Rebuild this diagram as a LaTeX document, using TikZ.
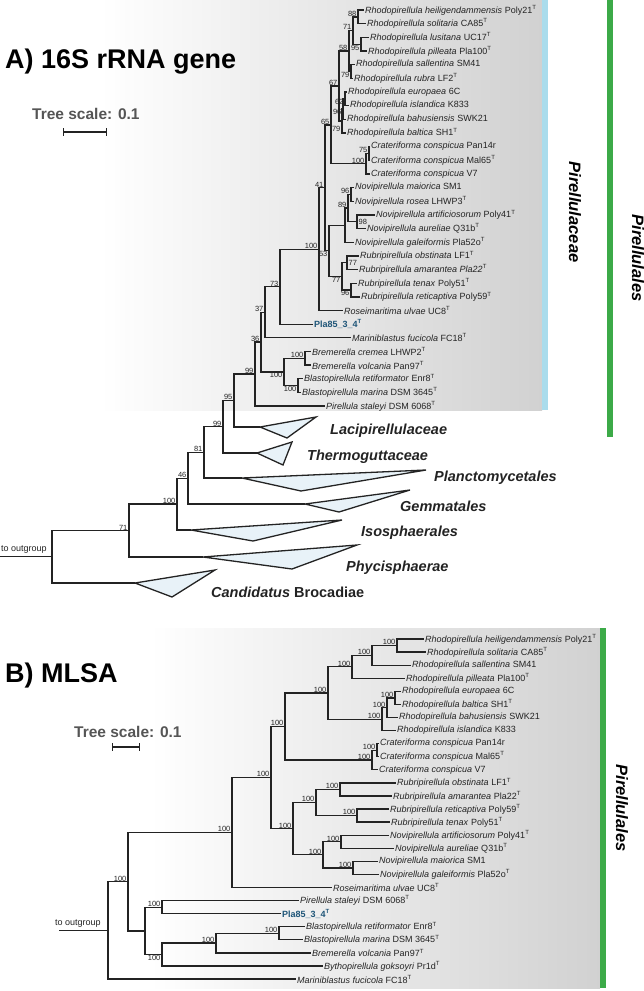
\documentclass[tikz,border=0pt]{standalone}
\usepackage{fontspec}
\setmainfont{Liberation Sans}
\usetikzlibrary{positioning}
\definecolor{TreeInk}{RGB}{35,35,35}
\definecolor{CladeFill}{RGB}{232,242,248}
\definecolor{FamBlue}{RGB}{170,220,236}
\definecolor{OrdGreen}{RGB}{60,170,72}
\definecolor{NewStrain}{RGB}{30,85,120}
\definecolor{ScaleGray}{RGB}{85,85,85}
\newcommand{\taxT}[2]{\textit{#1} #2\textsuperscript{T}}
\newcommand{\taxN}[2]{\textit{#1} #2}
\tikzset{
  branch/.style={line width=1.3pt, draw=TreeInk},
  tip/.style={anchor=west, inner sep=1pt, text=TreeInk, font=\fontsize{9}{10}\selectfont},
  newtip/.style={tip, text=NewStrain, font=\fontsize{9}{10}\selectfont\bfseries},
  bs/.style={inner sep=0.4pt, text=TreeInk, font=\fontsize{7.5}{8}\selectfont},
  clade/.style={draw=TreeInk, line width=1.3pt, fill=CladeFill},
  cladelab/.style={anchor=west, inner sep=0pt, text=TreeInk, font=\fontsize{14.5}{16}\selectfont\bfseries\itshape},
  panel/.style={anchor=base west, inner sep=0pt, font=\fontsize{27}{30}\selectfont\bfseries},
  scalelab/.style={anchor=base west, inner sep=0pt, text=ScaleGray, font=\fontsize{15.5}{17}\selectfont\bfseries},
  scalebar/.style={line width=1.2pt, draw=TreeInk, |-|},
  taxlab/.style={rotate=-90, inner sep=0pt, font=\fontsize{16.5}{18}\selectfont\bfseries\itshape},
  outlab/.style={anchor=base west, inner sep=0pt, text=TreeInk, font=\fontsize{9}{10}\selectfont}
}

\begin{document}
\begin{tikzpicture}[x=1pt, y=-1pt]
  \useasboundingbox (0,0) rectangle (644,991);

  % shaded panels and side bars
  \shade[left color=white, right color=black!18] (100,0) rectangle (542,410);
  \fill[FamBlue] (542,0) rectangle (548,410);
  \fill[OrdGreen] (607,0) rectangle (613,437);
  \shade[left color=white, right color=black!18] (150,628) rectangle (600,988);
  \fill[OrdGreen] (600,628) rectangle (606,988);

  \node[taxlab] (famA) at (575,212) {Pirellulaceae};
  \node[taxlab] (ordA) at (638,258) {Pirellulales};
  \node[taxlab] (ordB) at (622,808) {Pirellulales};

  % panel A: 16S rRNA gene
  \node[panel] (titleA) at (5,68) {A) 16S rRNA gene};
  \node[scalelab] (scaleA) at (32,119) {Tree scale: 0.1};
  \coordinate (aSb1) at (63,132);
  \coordinate (aSb2) at (107,132);
  \draw[scalebar] (aSb1) -- (aSb2);

  \node[tip] (aT1)  at (364,10.0)  {\taxT{Rhodopirellula heiligendammensis}{Poly21}};
  \node[tip] (aT2)  at (366,23.7)  {\taxT{Rhodopirellula solitaria}{CA85}};
  \node[tip] (aT3)  at (369,37.3)  {\taxT{Rhodopirellula lusitana}{UC17}};
  \node[tip] (aT4)  at (367,51.0)  {\taxT{Rhodopirellula pilleata}{Pla100}};
  \node[tip] (aT5)  at (355,64.6)  {\taxN{Rhodopirellula sallentina}{SM41}};
  \node[tip] (aT6)  at (353,78.3)  {\taxT{Rhodopirellula rubra}{LF2}};
  \node[tip] (aT7)  at (347,92.0)  {\taxN{Rhodopirellula europaea}{6C}};
  \node[tip] (aT8)  at (349,105.6) {\taxN{Rhodopirellula islandica}{K833}};
  \node[tip] (aT9)  at (346,119.3) {\taxN{Rhodopirellula bahusiensis}{SWK21}};
  \node[tip] (aT10) at (346,132.9) {\taxT{Rhodopirellula baltica}{SH1}};
  \node[tip] (aT11) at (370,146.6) {\taxN{Crateriforma conspicua}{Pan14r}};
  \node[tip] (aT12) at (370,160.3) {\taxT{Crateriforma conspicua}{Mal65}};
  \node[tip] (aT13) at (370,173.9) {\taxN{Crateriforma conspicua}{V7}};
  \node[tip] (aT14) at (354,187.6) {\taxN{Novipirellula maiorica}{SM1}};
  \node[tip] (aT15) at (354,201.2) {\taxT{Novipirellula rosea}{LHWP3}};
  \node[tip] (aT16) at (375,214.9) {\taxT{Novipirellula artificiosorum}{Poly41}};
  \node[tip] (aT17) at (366,228.6) {\taxT{Novipirellula aureliae}{Q31b}};
  \node[tip] (aT18) at (354,242.2) {\taxT{Novipirellula galeiformis}{Pla52o}};
  \node[tip] (aT19) at (359,255.9) {\taxT{Rubripirellula obstinata}{LF1}};
  \node[tip] (aT20) at (358,269.5) {\textit{Rubripirellula amarantea Pla22}\textsuperscript{T}};
  \node[tip] (aT21) at (357,283.2) {\taxT{Rubripirellula tenax}{Poly51}};
  \node[tip] (aT22) at (360,296.9) {\taxT{Rubripirellula reticaptiva}{Poly59}};
  \node[tip] (aT23) at (343,310.5) {\taxT{Roseimaritima ulvae}{UC8}};
  \node[newtip] (aT24) at (313,324.2) {Pla85\_3\_4\textsuperscript{T}};
  \node[tip] (aT25) at (351,337.8) {\taxT{Mariniblastus fucicola}{FC18}};
  \node[tip] (aT26) at (311,351.5) {\taxT{Bremerella cremea}{LHWP2}};
  \node[tip] (aT27) at (311,365.1) {\taxT{Bremerella volcania}{Pan97}};
  \node[tip] (aT28) at (303,378.8) {\taxT{Blastopirellula retiformator}{Enr8}};
  \node[tip] (aT29) at (301,392.5) {\taxT{Blastopirellula marina}{DSM 3645}};
  \node[tip] (aT30) at (325,406.1) {\taxT{Pirellula staleyi}{DSM 6068}};

  \coordinate (aN88)   at (358,16.9);
  \coordinate (aN95)   at (361,44.2);
  \coordinate (aN71)   at (353,30.5);
  \coordinate (aN79)   at (351,71.5);
  \coordinate (aN58)   at (349,51.0);
  \coordinate (aN62)   at (345,98.8);
  \coordinate (aN96)   at (343,109.1);
  \coordinate (aN79b)  at (342,121.0);
  \coordinate (aN67)   at (339,86.0);
  \coordinate (aN75)   at (369,153.5);
  \coordinate (aN100c) at (366,163.7);
  \coordinate (aN65)   at (331,124.9);
  \coordinate (aN96n)  at (351,194.4);
  \coordinate (aN98)   at (357,221.8);
  \coordinate (aN89)   at (348,208.1);
  \coordinate (aNovi)  at (345,225.2);
  \coordinate (aN77a)  at (347,262.7);
  \coordinate (aN96r)  at (351,290.1);
  \coordinate (aN77b)  at (342,276.4);
  \coordinate (aN53)   at (329,250.8);
  \coordinate (aN41)   at (325,187.8);
  \coordinate (aN100b) at (319,249.2);
  \coordinate (aN73)   at (280,286.7);
  \coordinate (aN37)   at (265,312.3);
  \coordinate (aNB1)   at (305,358.3);
  \coordinate (aNB2)   at (298,385.7);
  \coordinate (aNBB)   at (284,372.0);
  \coordinate (aN36)   at (261,342.1);
  \coordinate (aN99a)  at (255,374.1);
  \coordinate (aN95a)  at (234,400.6);
  \coordinate (aN99b)  at (223,426.8);
  \coordinate (aN81)   at (204,452.4);
  \coordinate (aN46)   at (188,478.2);
  \coordinate (aN100t) at (177,504.1);
  \coordinate (aN71t)  at (129,530.6);
  \coordinate (aRoot)  at (52,556.8);
  \coordinate (aOut)   at (0,556.8);

  % collapsed clades
  \coordinate (aLaci)    at (260,427);
  \coordinate (aThermo)  at (257,453);
  \coordinate (aPlancto) at (242,478);
  \coordinate (aGemm)    at (305,504);
  \coordinate (aIso)     at (191,530);
  \coordinate (aPhyc)    at (203,557);
  \coordinate (aBroc)    at (135,583);
  \draw[clade] (aLaci) -- (316,417) -- (287,438) -- cycle;
  \draw[clade] (aThermo) -- (292,442) -- (283,465) -- cycle;
  \draw[clade] (aPlancto) -- (426,470) -- (301,491) -- cycle;
  \draw[clade] (aGemm) -- (410,490) -- (339,512) -- cycle;
  \draw[clade] (aIso) -- (342,520) -- (253,541) -- cycle;
  \draw[clade] (aPhyc) -- (357,545) -- (292,569) -- cycle;
  \draw[clade] (aBroc) -- (215,570) -- (172,597) -- cycle;
  \node[cladelab] (aLaciLab)    at (330,431) {Lacipirellulaceae};
  \node[cladelab] (aThermoLab)  at (307,457) {Thermoguttaceae};
  \node[cladelab] (aPlanctoLab) at (434,478) {Planctomycetales};
  \node[cladelab] (aGemmLab)    at (400,506) {Gemmatales};
  \node[cladelab] (aIsoLab)     at (361,533) {Isosphaerales};
  \node[cladelab] (aPhycLab)    at (346,568) {Phycisphaerae};
  \node[cladelab] (aBrocLab)    at (211,592) {Candidatus \textup{Brocadiae}};
  \node[outlab] (aOutLab) at (1,551) {to outgroup};

  \foreach \p/\c in {aN88/aT1, aN88/aT2, aN95/aT3, aN95/aT4, aN71/aN88, aN71/aN95,
      aN79/aT5, aN79/aT6, aN58/aN71, aN58/aN79, aN62/aT7, aN62/aT8, aN96/aN62,
      aN96/aT9, aN79b/aN96, aN79b/aT10, aN67/aN58, aN67/aN79b, aN75/aT11, aN75/aT12,
      aN100c/aN75, aN100c/aT13, aN65/aN67, aN65/aN100c, aN96n/aT14, aN96n/aT15,
      aN98/aT16, aN98/aT17, aN89/aN96n, aN89/aN98, aNovi/aN89, aNovi/aT18,
      aN77a/aT19, aN77a/aT20, aN96r/aT21, aN96r/aT22, aN77b/aN77a, aN77b/aN96r,
      aN53/aNovi, aN53/aN77b, aN41/aN65, aN41/aN53, aN100b/aN41, aN100b/aT23,
      aN73/aN100b, aN73/aT24, aN37/aN73, aN37/aT25, aNB1/aT26, aNB1/aT27,
      aNB2/aT28, aNB2/aT29, aNBB/aNB1, aNBB/aNB2, aN36/aN37, aN36/aNBB,
      aN99a/aN36, aN99a/aT30, aN95a/aN99a, aN95a/aLaci, aN99b/aN95a, aN99b/aThermo,
      aN81/aN99b, aN81/aPlancto, aN46/aN81, aN46/aGemm, aN100t/aN46, aN100t/aIso,
      aN71t/aN100t, aN71t/aPhyc, aRoot/aN71t, aRoot/aBroc}
    \draw[branch] (\p) |- (\c);
  \draw[branch] (aOut) -- (aRoot);

  % support values, panel A
  \foreach \c/\v in {aN88/88, aN71/71, aN58/58, aN67/67, aN65/65, aN75/75, aN100c/100,
      aN96n/96, aN89/89, aN41/41, aN100b/100, aN73/73, aN37/37, aNB1/100, aN36/36,
      aN99a/99, aN95a/95, aN99b/99, aN81/81, aN46/46, aN100t/100, aN71t/71}
    \node[bs, above left=0pt and 1pt of \c] (L\c) {\v};
  \foreach \c/\v in {aN95/95, aN79/79, aN62/62, aN96/96, aN96r/96, aN77b/77,
      aNB2/100, aNBB/100, aN53/53}
    \node[bs, below left=0pt and 1pt of \c] (L\c) {\v};
  \foreach \c/\v in {aN98/98, aN77a/77}
    \node[bs, right=1pt of \c] (L\c) {\v};
  \node[bs, below left=5pt and 1pt of aN79b] (LaN79b) {79};

  % panel B: MLSA
  \node[panel] (titleB) at (5,682) {B) MLSA};
  \node[scalelab] (scaleB) at (74,737) {Tree scale: 0.1};
  \coordinate (bSb1) at (112,747);
  \coordinate (bSb2) at (140,747);
  \draw[scalebar] (bSb1) -- (bSb2);

  \node[tip] (bT1)  at (424,639.0) {\taxT{Rhodopirellula heiligendammensis}{Poly21}};
  \node[tip] (bT2)  at (426,652.1) {\taxT{Rhodopirellula solitaria}{CA85}};
  \node[tip] (bT3)  at (411,665.2) {\taxN{Rhodopirellula sallentina}{SM41}};
  \node[tip] (bT4)  at (405,678.2) {\taxT{Rhodopirellula pilleata}{Pla100}};
  \node[tip] (bT5)  at (401,691.3) {\taxN{Rhodopirellula europaea}{6C}};
  \node[tip] (bT6)  at (401,704.4) {\taxT{Rhodopirellula baltica}{SH1}};
  \node[tip] (bT7)  at (398,717.5) {\taxN{Rhodopirellula bahusiensis}{SWK21}};
  \node[tip] (bT8)  at (396,730.6) {\taxN{Rhodopirellula islandica}{K833}};
  \node[tip] (bT9)  at (379,743.6) {\taxN{Crateriforma conspicua}{Pan14r}};
  \node[tip] (bT10) at (379,756.7) {\taxT{Crateriforma conspicua}{Mal65}};
  \node[tip] (bT11) at (378,769.8) {\taxN{Crateriforma conspicua}{V7}};
  \node[tip] (bT12) at (396,782.9) {\taxT{Rubripirellula obstinata}{LF1}};
  \node[tip] (bT13) at (392,796.0) {\taxT{Rubripirellula amarantea}{Pla22}};
  \node[tip] (bT14) at (389,809.0) {\taxT{Rubripirellula reticaptiva}{Poly59}};
  \node[tip] (bT15) at (390,822.1) {\taxT{Rubripirellula tenax}{Poly51}};
  \node[tip] (bT16) at (389,835.2) {\taxT{Novipirellula artificiosorum}{Poly41}};
  \node[tip] (bT17) at (394,848.3) {\taxT{Novipirellula aureliae}{Q31b}};
  \node[tip] (bT18) at (378,861.4) {\taxN{Novipirellula maiorica}{SM1}};
  \node[tip] (bT19) at (379,874.4) {\taxT{Novipirellula galeiformis}{Pla52o}};
  \node[tip] (bT20) at (332,887.5) {\taxT{Roseimaritima ulvae}{UC8}};
  \node[tip] (bT21) at (299,900.6) {\taxT{Pirellula staleyi}{DSM 6068}};
  \node[newtip] (bT22) at (281,913.7) {Pla85\_3\_4\textsuperscript{T}};
  \node[tip] (bT23) at (305,926.8) {\taxT{Blastopirellula retiformator}{Enr8}};
  \node[tip] (bT24) at (303,939.8) {\taxT{Blastopirellula marina}{DSM 3645}};
  \node[tip] (bT25) at (311,952.9) {\taxT{Bremerella volcania}{Pan97}};
  \node[tip] (bT26) at (323,966.0) {\taxT{Bythopirellula goksoyri}{Pr1d}};
  \node[tip] (bT27) at (296,979.1) {\taxT{Mariniblastus fucicola}{FC18}};

  \coordinate (bN1)   at (397,645.6);
  \coordinate (bN2)   at (372,655.4);
  \coordinate (bN3)   at (352,666.8);
  \coordinate (bN5)   at (395,697.9);
  \coordinate (bN6)   at (387,707.7);
  \coordinate (bN7)   at (382,719.2);
  \coordinate (bRh)   at (328,693.0);
  \coordinate (bN9)   at (377,750.2);
  \coordinate (bN10)  at (372,760.0);
  \coordinate (bE)    at (285,726.5);
  \coordinate (bN12)  at (340,789.5);
  \coordinate (bN13)  at (357,815.6);
  \coordinate (bRu)   at (316,802.5);
  \coordinate (bN15)  at (341,841.8);
  \coordinate (bN16)  at (353,867.9);
  \coordinate (bNo)   at (323,854.8);
  \coordinate (bF)    at (293,828.7);
  \coordinate (bD)    at (271,777.6);
  \coordinate (bB)    at (232,832.6);
  \coordinate (bG)    at (162,907.2);
  \coordinate (bBl)   at (279,933.3);
  \coordinate (bI)    at (216,943.1);
  \coordinate (bH)    at (162,954.6);
  \coordinate (bC)    at (145,930.9);
  \coordinate (bA)    at (128,881.7);
  \coordinate (bRoot) at (108,930.4);
  \coordinate (bOut)  at (59,930.4);
  \node[outlab] (bOutLab) at (55,925) {to outgroup};

  \foreach \p/\c in {bN1/bT1, bN1/bT2, bN2/bN1, bN2/bT3, bN3/bN2, bN3/bT4,
      bN5/bT5, bN5/bT6, bN6/bN5, bN6/bT7, bN7/bN6, bN7/bT8, bRh/bN3, bRh/bN7,
      bN9/bT9, bN9/bT10, bN10/bN9, bN10/bT11, bE/bRh, bE/bN10,
      bN12/bT12, bN12/bT13, bN13/bT14, bN13/bT15, bRu/bN12, bRu/bN13,
      bN15/bT16, bN15/bT17, bN16/bT18, bN16/bT19, bNo/bN15, bNo/bN16,
      bF/bRu, bF/bNo, bD/bE, bD/bF, bB/bD, bB/bT20, bG/bT21, bG/bT22,
      bBl/bT23, bBl/bT24, bI/bBl, bI/bT25, bH/bI, bH/bT26, bC/bG, bC/bH,
      bA/bB, bA/bC, bRoot/bA, bRoot/bT27}
    \draw[branch] (\p) |- (\c);
  \draw[branch] (bOut) -- (bRoot);

  % support values, panel B
  \foreach \c in {bN1, bN2, bN3, bN5, bN6, bN7, bRh, bN9, bN10, bE, bN12, bN13,
      bRu, bN15, bN16, bNo, bF, bD, bB, bG, bBl, bI, bA}
    \node[bs, above left=0pt and 1pt of \c] (L\c) {100};
  \node[bs, below left=0pt and 1pt of bH] (LbH) {100};
\end{tikzpicture}
\end{document}
